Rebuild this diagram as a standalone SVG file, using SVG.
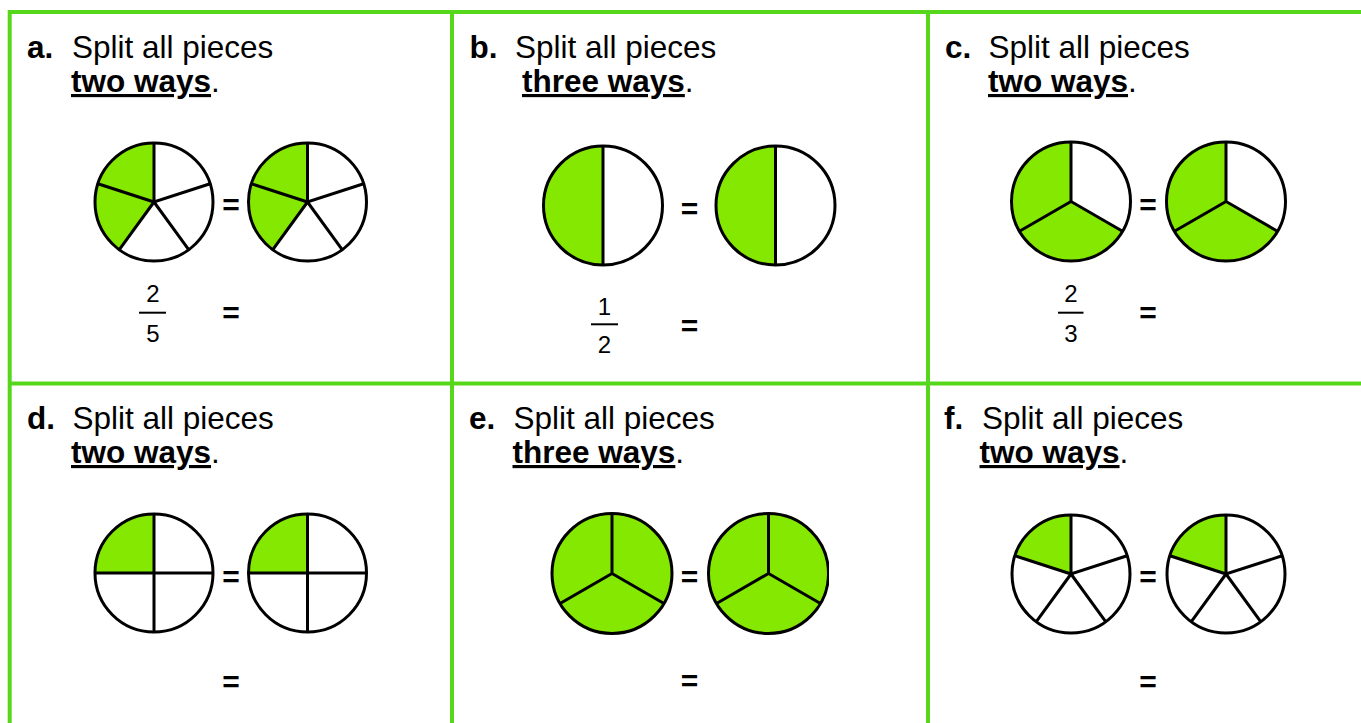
<svg xmlns="http://www.w3.org/2000/svg" xmlns:xlink="http://www.w3.org/1999/xlink" width="1361" height="723" viewBox="0 0 1361 723">
<style>
  text { font-family: "Liberation Sans", Arial, sans-serif; fill: #000; }
  .t { font-size: 31.5px; }
  .b { font-weight: bold; }
  .u { font-weight: bold; text-decoration: underline; }
  .eq { font-size: 30px; font-weight: bold; text-anchor: middle; }
  .fr { font-size: 24px; text-anchor: middle; }
  .grid { stroke: #56d71b; stroke-width: 4; fill: none; }
  .ring { fill: none; stroke: #000; stroke-width: 3; }
  .div { stroke: #000; stroke-width: 3; fill: none; }
  .g { fill: #84e800; }
  .w { fill: #fff; }
  .bar { stroke: #000; stroke-width: 2; }
</style>
<defs>
  <g id="pie5a">
    <circle r="59" class="w"/>
    <path class="g" d="M0,0 L-34.68,47.73 A59,59 0 0,1 0,-59 Z"/>
    <path class="div" d="M0,-59 L0,0 L56.11,-18.23 M0,0 L34.68,47.73 M0,0 L-34.68,47.73 M0,0 L-56.11,-18.23"/>
    <circle r="59" class="ring"/>
  </g>
  <g id="pie5f">
    <circle r="59" class="w"/>
    <path class="g" d="M0,0 L-56.11,-18.23 A59,59 0 0,1 0,-59 Z"/>
    <path class="div" d="M0,-59 L0,0 L56.11,-18.23 M0,0 L34.68,47.73 M0,0 L-34.68,47.73 M0,0 L-56.11,-18.23"/>
    <circle r="59" class="ring"/>
  </g>
  <g id="pie2">
    <circle r="59.5" class="w"/>
    <path class="g" d="M0,-59.5 A59.5,59.5 0 0,0 0,59.5 Z"/>
    <path class="div" d="M0,-59.5 L0,59.5"/>
    <circle r="59.5" class="ring"/>
  </g>
  <g id="pie3c">
    <circle r="59.5" class="w"/>
    <path class="g" d="M0,0 L51.53,29.75 A59.5,59.5 0 1,1 0,-59.5 Z"/>
    <path class="div" d="M0,-59.5 L0,0 L51.53,29.75 M0,0 L-51.53,29.75"/>
    <circle r="59.5" class="ring"/>
  </g>
  <g id="pie4">
    <circle r="59" class="w"/>
    <path class="g" d="M0,0 L-59,0 A59,59 0 0,1 0,-59 Z"/>
    <path class="div" d="M0,-59 L0,59 M-59,0 L59,0"/>
    <circle r="59" class="ring"/>
  </g>
  <g id="pie3e">
    <circle r="60" class="g"/>
    <path class="div" d="M0,-60 L0,0 L51.96,30 M0,0 L-51.96,30"/>
    <circle r="60" class="ring"/>
  </g>
  <clipPath id="clipE">
    <rect x="690" y="500" width="139" height="150"/>
  </clipPath>
</defs>
<rect width="1361" height="723" fill="#fff"/>

<g id="grid">
  <path class="grid" d="M7.7,12 L1361,12 M7.7,383.5 L1361,383.5 M9.7,10 L9.7,723 M452,10 L452,723 M928,10 L928,723"/>
</g>

<g id="panel-a">
  <text class="t b" x="27" y="58">a.</text>
  <text class="t" x="72" y="58">Split all pieces</text>
  <text class="t" x="71" y="92"><tspan class="u">two ways</tspan>.</text>
  <use xlink:href="#pie5a" x="154" y="202"/>
  <text class="eq" x="231" y="215">=</text>
  <use xlink:href="#pie5a" x="307.5" y="202"/>
  <text class="fr" x="153" y="302">2</text>
  <line class="bar" x1="139" y1="312.7" x2="166" y2="312.7"/>
  <text class="fr" x="153" y="342">5</text>
  <text class="eq" x="231" y="323">=</text>
</g>

<g id="panel-b">
  <text class="t b" x="469.5" y="58">b.</text>
  <text class="t" x="515" y="58">Split all pieces</text>
  <text class="t" x="522" y="92"><tspan class="u">three ways</tspan>.</text>
  <use xlink:href="#pie2" x="603" y="205.5"/>
  <text class="eq" x="689.5" y="219">=</text>
  <use xlink:href="#pie2" x="775.5" y="205.5"/>
  <text class="fr" x="604.5" y="315">1</text>
  <line class="bar" x1="591" y1="324.3" x2="618" y2="324.3"/>
  <text class="fr" x="604.5" y="353">2</text>
  <text class="eq" x="689.5" y="335.5">=</text>
</g>

<g id="panel-c">
  <text class="t b" x="945" y="58">c.</text>
  <text class="t" x="988.5" y="58">Split all pieces</text>
  <text class="t" x="988" y="92"><tspan class="u">two ways</tspan>.</text>
  <use xlink:href="#pie3c" x="1071" y="201.5"/>
  <text class="eq" x="1148" y="215">=</text>
  <use xlink:href="#pie3c" x="1226" y="201.5"/>
  <text class="fr" x="1071" y="302">2</text>
  <line class="bar" x1="1058" y1="312.7" x2="1083.5" y2="312.7"/>
  <text class="fr" x="1071" y="342">3</text>
  <text class="eq" x="1148" y="323">=</text>
</g>

<g id="panel-d">
  <text class="t b" x="27" y="429">d.</text>
  <text class="t" x="72.5" y="429">Split all pieces</text>
  <text class="t" x="71" y="463"><tspan class="u">two ways</tspan>.</text>
  <use xlink:href="#pie4" x="154" y="573"/>
  <text class="eq" x="231" y="586.5">=</text>
  <use xlink:href="#pie4" x="307.5" y="573"/>
  <text class="eq" x="231" y="691.5">=</text>
</g>

<g id="panel-e">
  <text class="t b" x="469" y="429">e.</text>
  <text class="t" x="513.5" y="429">Split all pieces</text>
  <text class="t" x="512.5" y="463"><tspan class="u">three ways</tspan>.</text>
  <use xlink:href="#pie3e" x="612" y="573.5"/>
  <text class="eq" x="689.5" y="586.5">=</text>
  <g clip-path="url(#clipE)">
    <use xlink:href="#pie3e" x="768.5" y="573.5"/>
  </g>
  <text class="eq" x="689.5" y="691">=</text>
</g>

<g id="panel-f">
  <text class="t b" x="944" y="429">f.</text>
  <text class="t" x="982" y="429">Split all pieces</text>
  <text class="t" x="979.5" y="463"><tspan class="u">two ways</tspan>.</text>
  <use xlink:href="#pie5f" x="1071" y="574"/>
  <text class="eq" x="1148" y="586.5">=</text>
  <use xlink:href="#pie5f" x="1226" y="574"/>
  <text class="eq" x="1148" y="691.5">=</text>
</g>
</svg>
